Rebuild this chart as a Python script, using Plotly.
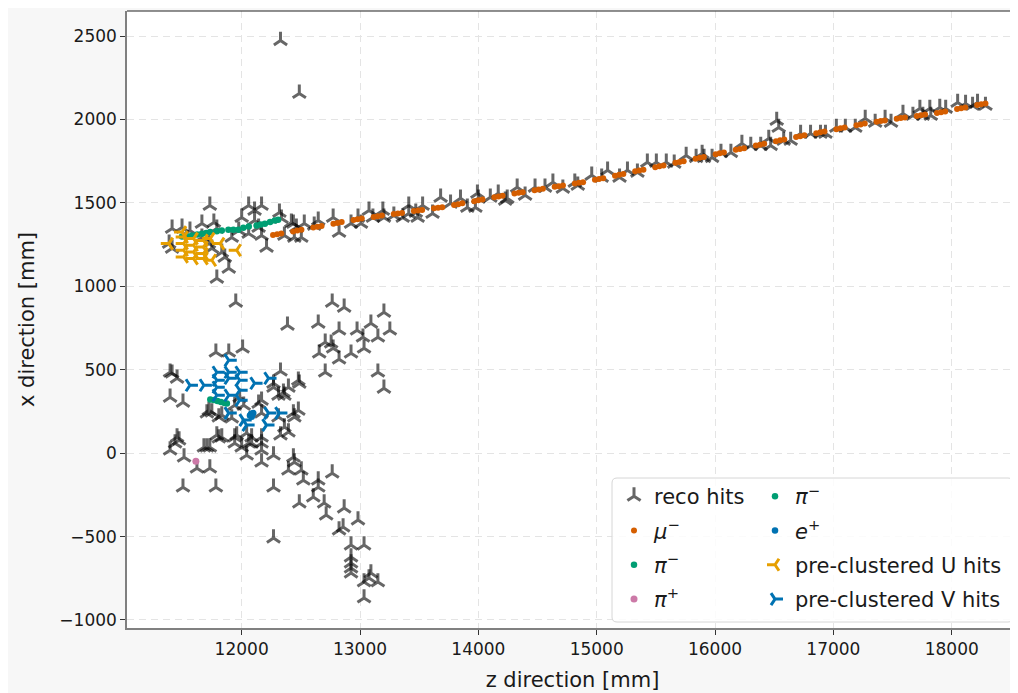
import plotly.graph_objects as go

# ---------------- data (z [mm], x [mm]) ----------------
reco_z = [
    12328, 12487, 16521, 16538,
    12319, 12336, 12420, 12462, 12437, 12529, 12361, 12445, 12504, 12647, 12773, 12823, 12613,
    12983, 13008, 12924, 13076, 13109, 13193, 13202, 13286, 13361, 13412, 13412, 13471, 13487,
    13529, 13613, 13681, 13765, 13849, 13907, 13992, 14000, 13975, 14101, 14168, 14244,
    14227, 14328, 14395, 14479, 14563, 14630, 14714, 14815, 14840, 14958, 15042, 15092, 15193,
    15260, 15344, 15428, 15504, 15588, 15655, 15756, 15840, 15891, 15907, 15975, 16050, 16134,
    16227, 16302, 16386, 16454, 16470, 16580, 16639, 16723, 16807, 16891, 16933, 17025, 17101,
    17185, 17269, 17353, 17437, 17487, 17588, 17672, 17731, 17756, 17815, 17823, 17899, 17949,
    18050, 18117, 18176, 18218, 18285,
    11731, 11496, 11563, 11412, 11664, 11765, 11790, 11387, 11412, 11664, 11723, 11748, 11832,
    11857, 11916, 12059, 12109, 12168, 12000, 12109, 11975, 12059, 12168, 12143, 12210, 11891, 11790,
    11950, 12765, 12866, 13202, 12387, 12647, 12823, 12975, 13092, 13252, 13151, 13025, 12706,
    12756, 12655, 12773, 12823, 12924, 13034, 12706, 13151, 13202,
    11782, 11891, 12008, 11395, 11454, 11395, 11504,
    12328, 12487, 12269, 12311, 12361, 12437, 12168,
    11706, 11748, 11807, 11832, 11941, 12168,
    11790, 11832, 11958, 11941, 12042, 12059, 12042, 12168, 12168, 12168, 12269,
    11454, 11437, 11395, 11513, 11681, 11731, 11622, 11731, 11504, 11782, 12269,
    12328, 12395, 12437, 12395, 12445, 12504, 12521, 12647, 12647, 12605, 12765, 12487, 12697,
    12714, 12866, 12983, 12823, 12857, 12924, 13034, 12269,
    12924, 12924, 12924, 12924, 13092, 13076, 13034, 13151, 13034,
    11723, 11916, 12017, 11983, 12143, 12269, 12353, 12395, 12479, 12479, 12445, 12311, 12361,
    12084, 12084, 12168, 12000, 11807, 11706, 11471, 11941, 11412,
]
reco_x = [
    2473, 2156, 1994, 1952,
    1443, 1407, 1383, 1353, 1377, 1377, 1305, 1293, 1293, 1395, 1413, 1323, 1365,
    1413, 1377, 1377, 1455, 1413, 1455, 1413, 1425, 1413, 1485, 1437, 1443, 1413,
    1485, 1437, 1533, 1497, 1527, 1473, 1557, 1527, 1473, 1533, 1557, 1527,
    1515, 1593, 1545, 1593, 1593, 1623, 1587, 1623, 1605, 1665, 1653, 1695, 1653,
    1695, 1683, 1743, 1743, 1743, 1737, 1784, 1772, 1796, 1772, 1772, 1802, 1802,
    1856, 1844, 1844, 1886, 1844, 1874, 1874, 1916, 1916, 1916, 1916, 1952, 1952,
    1952, 2006, 1982, 2006, 1982, 2036, 2024, 2066, 2024, 2066, 2024, 2072, 2066,
    2102, 2096, 2084, 2102, 2084,
    1485, 1353, 1335, 1347, 1377, 1383, 1347, 1257, 1228, 1293, 1257, 1228, 1204,
    1174, 1293, 1485, 1455, 1485, 1413, 1395, 1335, 1317, 1305, 1353, 1234, 1108, 1048,
    904, 904, 874, 844, 766, 778, 737, 737, 778, 737, 695, 695, 665,
    659, 599, 629, 563, 599, 629, 485, 485, 389,
    605, 605, 629, 485, 449, 335, 305,
    491, 419, 419, 347, 347, 240, 317,
    240, 246, 216, 228, 287, 240,
    108, 96, 108, 60, 120, 60, -12, 96, 60, -54, -12,
    96, 60, 18, -24, 36, 36, -90, -90, -204, -204, -204,
    108, 126, -24, -102, -54, -102, -162, -162, -204, -263, -120, -299, -299,
    -371, -329, -401, -461, -443, -551, -551, -509,
    -623, -659, -689, -719, -719, -749, -772, -772, -868,
    257, 210, 287, 335, 299, 395, 365, 395, 437, 257, 216, 216, 156,
    96, 60, 18, 36, 90, 36, 78, 96, 479,
]

mu_z = [12265, 12300, 12335, 12435, 12470, 12505, 12605, 12640, 12675, 12775, 12810, 12845,
        12945, 12980, 13015, 13115, 13150, 13185, 13285, 13320, 13355, 13455, 13490, 13525,
        13625, 13660, 13695, 13795, 13830, 13865, 13965, 14000, 14035, 14135, 14170, 14205,
        14305, 14340, 14375, 14475, 14510, 14545, 14645, 14680, 14715, 14815, 14850, 14885,
        14985, 15020, 15055, 15155, 15190, 15225, 15325, 15360, 15395, 15495, 15530, 15565,
        15665, 15700, 15735, 15835, 15870, 15905, 16005, 16040, 16075, 16175, 16210, 16245,
        16345, 16380, 16415, 16515, 16550, 16585, 16685, 16720, 16755, 16855, 16890, 16925,
        17025, 17060, 17095, 17195, 17230, 17265, 17365, 17400, 17435, 17535, 17570, 17605,
        17705, 17740, 17775, 17875, 17910, 17945, 18045, 18080, 18115, 18215, 18250, 18285]
mu_x = [1307, 1312, 1317, 1329, 1334, 1339, 1352, 1357, 1362, 1375, 1380, 1385,
        1398, 1402, 1406, 1416, 1420, 1424, 1434, 1437, 1440, 1451, 1454, 1457,
        1468, 1471, 1474, 1487, 1492, 1497, 1510, 1515, 1520, 1533, 1538, 1543,
        1556, 1560, 1564, 1576, 1580, 1584, 1596, 1600, 1604, 1616, 1620, 1624,
        1638, 1643, 1648, 1663, 1668, 1673, 1689, 1694, 1699, 1714, 1719, 1724,
        1740, 1745, 1750, 1765, 1770, 1775, 1792, 1797, 1802, 1818, 1823, 1828,
        1844, 1849, 1854, 1870, 1875, 1880, 1895, 1900, 1905, 1918, 1923, 1928,
        1942, 1947, 1952, 1965, 1970, 1975, 1986, 1990, 1994, 2004, 2008, 2012,
        2021, 2025, 2029, 2038, 2043, 2048, 2062, 2067, 2072, 2086, 2091, 2096]

pim1_z = [11496, 11540, 11580, 11625, 11664, 11700, 11734, 11790, 11832, 11888,
          11930, 11972, 12014, 12060, 12126, 12160, 12196, 12240, 12280, 12308]
pim1_x = [1298, 1300, 1305, 1310, 1315, 1320, 1325, 1330, 1335, 1339,
          1339, 1339, 1351, 1358, 1365, 1370, 1375, 1385, 1395, 1399]

pip_z = [11613]
pip_x = [-48]

pim2_z = [11735, 11765, 11795, 11825, 11855, 11875]
pim2_x = [322, 318, 313, 307, 301, 297]

ep_z = [12070, 12080, 12090, 12098, 12085]
ep_x = [225, 236, 228, 240, 218]

u_z = [11384, 11496, 11510, 11510, 11510, 11510, 11594, 11594, 11594, 11594,
       11678, 11678, 11678, 11678, 11734, 11748, 11818, 11958]
u_x = [1256, 1325, 1295, 1256, 1216, 1176, 1286, 1246, 1205, 1166,
       1275, 1235, 1196, 1166, 1286, 1156, 1256, 1216]

v_z = [11563, 11681, 11790, 11790, 11790, 11790, 11891, 11891, 11891, 11891, 11983,
       11983, 11983, 11983, 12109, 12227, 11891, 12017, 12042, 12227, 12319, 12210]
v_x = [407, 407, 485, 437, 395, 347, 557, 485, 449, 347, 485,
       437, 377, 317, 419, 449, 240, 198, 168, 240, 240, 168]

x_ticks = [12000, 13000, 14000, 15000, 16000, 17000, 18000]
y_ticks = [-1000, -500, 0, 500, 1000, 1500, 2000, 2500]
x_ticklabels = ["12000", "13000", "14000", "15000", "16000", "17000", "18000"]
y_ticklabels = ["\u22121000", "\u2212500", "0", "500", "1000", "1500", "2000", "2500"]

# ---------------- styling ----------------
FONT = "DejaVu Sans"
TXT = "#1a1a1a"
RECO = "rgba(0,0,0,0.6)"
MU = "#D55E00"
PIM = "#009E73"
PIP = "#CC79A7"
EP = "#0072B2"
UC = "#E69F00"
VC = "#0072B2"

fig = go.Figure()


def add(xs, ys, name, marker, legend, group):
    fig.add_trace(go.Scatter(x=xs, y=ys, mode="markers", name=name, marker=marker,
                             legend=legend, legendgroup=group, hoverinfo="skip"))


add(reco_z, reco_x, "reco hits",
    dict(symbol="y-up", size=11, color=RECO, line=dict(color=RECO, width=3)), "legend", "g1")
add(mu_z, mu_x, "<i>\u03bc</i><sup>\u2212</sup>",
    dict(symbol="circle", size=6, color=MU, line=dict(width=0)), "legend", "g2")
add(pim1_z, pim1_x, "<i>\u03c0</i><sup>\u2212</sup>",
    dict(symbol="circle", size=6.5, color=PIM, line=dict(width=0)), "legend", "g3")
add(pip_z, pip_x, "<i>\u03c0</i><sup>+</sup>",
    dict(symbol="circle", size=7, color=PIP, line=dict(width=0)), "legend", "g4")
add(pim2_z, pim2_x, "<i>\u03c0</i><sup>\u2212</sup>",
    dict(symbol="circle", size=6.5, color=PIM, line=dict(width=0)), "legend2", "h1")
add(ep_z, ep_x, "<i>e</i><sup>+</sup>",
    dict(symbol="circle", size=6.5, color=EP, line=dict(width=0)), "legend2", "h2")
add(u_z, u_x, "pre-clustered U hits",
    dict(symbol="y-left", size=10, color=UC, line=dict(color=UC, width=3)), "legend2", "h3")
add(v_z, v_x, "pre-clustered V hits",
    dict(symbol="y-right", size=10, color=VC, line=dict(color=VC, width=3)), "legend2", "h4")

# The page body has an 8 px default margin, so the figure is drawn 8 px in
# from the window's top-left corner; geometry below is in window pixels.
OFF = 8
L, R, T, B = 127, 1018, 11, 628
W, H = R - L, B - T
FIG_W, FIG_H = 1018 - OFF, 693 - OFF


def px(xp):
    return (xp - L) / W


def py(yp):
    return (B - yp) / H


legend_common = dict(font=dict(family=FONT, size=21, color=TXT), bgcolor="rgba(0,0,0,0)",
                     borderwidth=0, xanchor="left", yanchor="top", tracegroupgap=4,
                     traceorder="grouped")

# legend frame (rounded rectangle)
fx0, fx1, fy0, fy1 = px(612), px(1013), py(622), py(478)
rx, ry = 5 / W, 5 / H
frame_path = (f"M {fx0+rx},{fy1} L {fx1-rx},{fy1} Q {fx1},{fy1} {fx1},{fy1-ry} "
              f"L {fx1},{fy0+ry} Q {fx1},{fy0} {fx1-rx},{fy0} L {fx0+rx},{fy0} "
              f"Q {fx0},{fy0} {fx0},{fy0+ry} L {fx0},{fy1-ry} Q {fx0},{fy1} {fx0+rx},{fy1} Z")

axis_common = dict(showgrid=True, gridcolor="#e4e4e4", griddash="7px,5px", gridwidth=1.2,
                   zeroline=False, showline=True, linecolor="#808080", linewidth=1.5,
                   ticks="outside", ticklen=5, tickwidth=1.2, tickcolor="#333333",
                   tickfont=dict(family=FONT, size=17, color=TXT), automargin=False)

fig.update_layout(
    width=FIG_W, height=FIG_H,
    margin=dict(l=L - OFF, r=FIG_W - (R - OFF), t=T - OFF, b=FIG_H - (B - OFF), pad=0),
    paper_bgcolor="#f7f7f7", plot_bgcolor="white",
    font=dict(family=FONT, size=17, color=TXT),
    showlegend=True,
    legend=dict(x=px(614), y=py(476), **legend_common),
    legend2=dict(x=px(755), y=py(476), **legend_common),
    shapes=[
        dict(type="path", xref="paper", yref="paper", path=frame_path,
             fillcolor="rgba(255,255,255,0.85)", line=dict(color="#d6d6d6", width=1), layer="above"),
        dict(type="line", xref="paper", yref="paper", x0=0, x1=1, y0=1, y1=1,
             line=dict(color="#222222", width=1.2), layer="above"),
    ],
    xaxis=dict(range=[11031, 18560], tickvals=x_ticks, ticktext=x_ticklabels,
               title=dict(text="z direction [mm]", font=dict(family=FONT, size=21, color=TXT), standoff=14),
               **axis_common),
    yaxis=dict(range=[-1048, 2650], tickvals=y_ticks, ticktext=y_ticklabels,
               title=dict(text="x direction [mm]", font=dict(family=FONT, size=21, color=TXT), standoff=19),
               **axis_common),
)

fig.write_html("out.html")
